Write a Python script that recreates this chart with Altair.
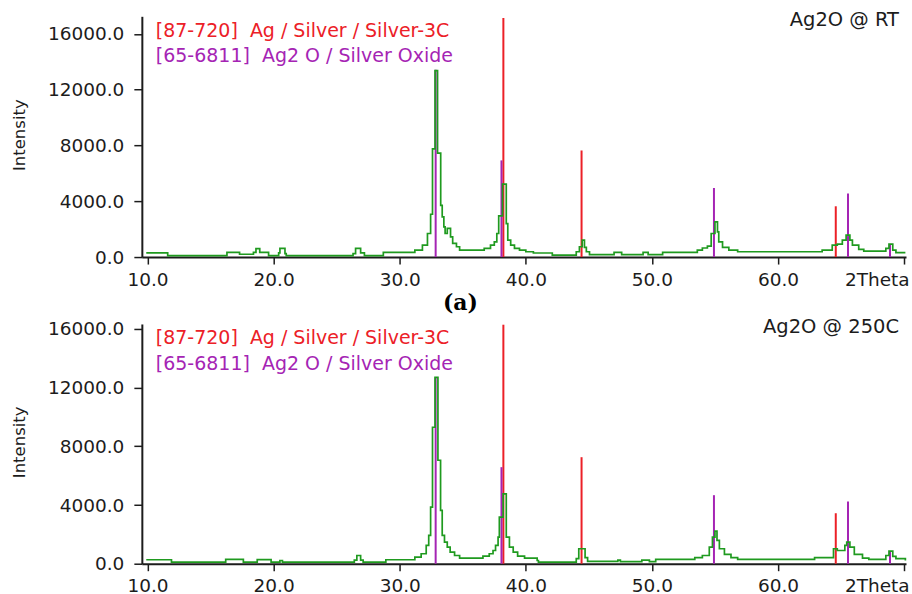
import altair as alt
import pandas as pd

# Diffraction profile of Ag2O at room temperature: each level starts at the given 2-theta
rt_theta = [9.9, 11.6, 16.3, 17.3, 18.4, 18.6, 18.9, 19.6, 20.4, 20.5, 20.9, 21.0,
            26.3, 26.5, 26.9, 27.2, 28.7, 31.2, 31.8, 32.2, 32.45, 32.6, 32.8, 33.0,
            33.25, 33.37, 33.5, 33.6, 33.77, 34.03, 34.2, 34.5, 34.75, 36.7, 37.2,
            37.5, 37.7, 37.85, 38.15, 38.45, 38.57, 38.8, 39.1, 39.5, 40.0, 40.6,
            42.1, 44.0, 44.25, 44.47, 44.65, 44.8, 45.05, 47.0, 47.6, 49.3, 49.7,
            50.85, 53.6, 54.0, 54.4, 54.7, 55.0, 55.2, 55.3, 55.6, 56.1, 56.8, 63.5,
            64.3, 64.7, 65.1, 65.4, 65.7, 65.9, 66.4, 66.8, 68.55, 68.8, 69.1, 69.35,
            70.1]
rt_counts = [300, 100, 330, 200, 330, 600, 330, 100, 300, 620, 250, 100,
             250, 620, 300, 100, 330, 500, 860, 1690, 3070, 7760, 13360, 7450,
             3710, 2880, 2160, 1690, 2050, 1450, 980, 740, 500, 620, 860,
             1090, 1690, 2950, 5230, 2400, 1210, 860, 620, 500, 380, 290,
             140, 380, 740, 1210, 690, 380, 180, 330, 180, 330, 180,
             330, 500, 650, 790, 1690, 2520, 1810, 1090, 690, 500, 380, 500,
             860, 930, 1210, 1570, 1210, 860, 550, 430, 620, 930, 500, 310,
             310]

# Diffraction profile of Ag2O after heating to 250 C
ht_theta = [9.9, 11.9, 16.2, 17.6, 18.7, 19.8, 20.5, 20.7, 26.4, 26.6, 26.9, 27.1,
            28.9, 31.2, 31.7, 32.1, 32.3, 32.45, 32.6, 32.8, 33.03, 33.24, 33.37,
            33.55, 33.77, 34.0, 34.35, 34.75, 36.6, 37.1, 37.4, 37.6, 37.8, 37.9,
            38.2, 38.45, 38.7, 39.0, 39.35, 39.9, 40.9, 41.0, 44.0, 44.2, 44.7,
            44.9, 47.3, 47.5, 49.2, 49.8, 50.3, 53.4, 54.0, 54.55, 54.8, 55.0,
            55.16, 55.35, 55.75, 56.27, 56.8, 62.9, 64.4, 64.7, 65.3, 65.45, 65.7,
            66.05, 66.7, 67.2, 68.55, 68.8, 69.1, 69.35, 70.1]
ht_counts = [270, 110, 300, 110, 280, 110, 220, 110, 250, 560, 250, 110,
             270, 450, 680, 1250, 1930, 3850, 9300, 12700, 7050, 3630, 1930,
             1470, 1130, 790, 560, 380, 520, 680, 900, 1250, 1810, 3170,
             4760, 1810, 1130, 790, 520, 380, 220, 110, 340, 1020, 410,
             160, 250, 140, 250, 140, 290, 410, 560, 1130, 1810, 2220,
             1590, 1020, 630, 410, 290, 410, 1020, 900, 1250, 1470, 1130,
             630, 380, 290, 560, 860, 500, 340, 220]

# Reference stick patterns
ag_theta = [38.22, 44.42, 64.58]
ag_rt = [17140, 7640, 3640]
ag_ht = [16290, 7260, 3440]
ag2o_theta = [32.85, 38.07, 54.92, 65.55, 68.88]
ag2o_rt = [13430, 6930, 4950, 4550, 930]
ag2o_ht = [12700, 6580, 4670, 4240, 860]

x_ticks = [10, 20, 30, 40, 50, 60, 70]
y_ticks = [0, 4000, 8000, 12000, 16000]

NBSP = "\u00a0"
ag_card = "[87-720]" + NBSP + " Ag / Silver / Silver-3C"
ag2o_card = "[65-6811]" + NBSP + " Ag2 O / Silver Oxide"
rt_tag = "Ag2O @ RT"
ht_tag = "Ag2O @ 250C"
panel_letter = "(a)"

FONT = "DejaVu Sans"
INK = "#1c1c1c"
GREEN = "#1f9a1f"
RED = "#ec2027"
PURPLE = "#a524b4"
W = 765


def text_layer(label, x, y, color, size, align="left", font=FONT, weight="normal"):
    return alt.Chart(pd.DataFrame({"t": [label]})).mark_text(
        align=align, baseline="alphabetic", font=font, fontSize=size,
        fontWeight=weight, color=color
    ).encode(text="t:N", x=alt.value(x), y=alt.value(y))


def panel(theta, counts, ag_h, ag2o_h, ymax, height, tag, extra=None):
    xs = alt.Scale(domain=[9.55, 70.15], nice=False, zero=False)
    ys = alt.Scale(domain=[0, ymax], nice=False)
    x_axis = alt.Axis(
        values=x_ticks, title=None, grid=False,
        labelExpr="datum.value == 70 ? '2Theta' : format(datum.value, '.1f')",
        domainColor=INK, domainWidth=2, tickColor=INK, tickWidth=1.5, tickSize=7,
        labelPadding=6, labelFont=FONT, labelFontSize=18.5, labelColor=INK,
        labelFlush=3, labelFlushOffset=5, labelOverlap=False,
    )
    y_axis = alt.Axis(
        values=y_ticks, format=".1f", title="Intensity", grid=False,
        domainColor=INK, domainWidth=2, tickColor=INK, tickWidth=1.5, tickSize=8,
        labelPadding=10, labelFont=FONT, labelFontSize=18.5, labelColor=INK,
        labelOverlap=False,
        titleFont=FONT, titleFontSize=16.5, titleFontWeight="normal", titleColor=INK,
        titleX=-122, titleY=height / 2 - 2, titleAngle=-90,
        titleBaseline="middle", titleAlign="center",
    )

    prof = pd.DataFrame({"theta": theta, "counts": counts})
    ag = pd.DataFrame({"theta": ag_theta, "h": ag_h, "b": 0})
    ag2o = pd.DataFrame({"theta": ag2o_theta, "h": ag2o_h, "b": 0})

    sticks_ag = alt.Chart(ag).mark_rule(color=RED, strokeWidth=2).encode(
        x=alt.X("theta:Q", scale=xs, axis=x_axis),
        y=alt.Y("h:Q", scale=ys, axis=y_axis), y2="b:Q")
    sticks_ag2o = alt.Chart(ag2o).mark_rule(color=PURPLE, strokeWidth=2).encode(
        x=alt.X("theta:Q", scale=xs), y=alt.Y("h:Q", scale=ys), y2="b:Q")
    line = alt.Chart(prof).mark_line(
        color=GREEN, strokeWidth=1.7, interpolate="step-after"
    ).encode(x=alt.X("theta:Q", scale=xs), y=alt.Y("counts:Q", scale=ys))

    layers = [sticks_ag, sticks_ag2o, line,
              text_layer(ag_card, 14, 20.5, RED, 19),
              text_layer(ag2o_card, 14, 46, PURPLE, 19),
              text_layer(tag, 758, 9.5, INK, 19.5, align="right")]
    if extra is not None:
        layers.append(extra)
    return alt.layer(*layers).properties(width=W, height=height)


letter = text_layer(panel_letter, 319, 294, "#000000", 22, align="center",
                    font="DejaVu Serif", weight="bold")

top = panel(rt_theta, rt_counts, ag_rt, ag2o_rt, 17260, 241, rt_tag, extra=letter)
bottom = panel(ht_theta, ht_counts, ag_ht, ag2o_ht, 16340, 240, ht_tag)

chart = alt.vconcat(top, bottom, spacing=67, bounds="flush").properties(
    padding={"left": 12, "top": 9, "right": 2, "bottom": 2},
    background="white",
).configure_view(stroke=None)

chart.save("out.html", embed_options={"renderer": "svg", "actions": False})
